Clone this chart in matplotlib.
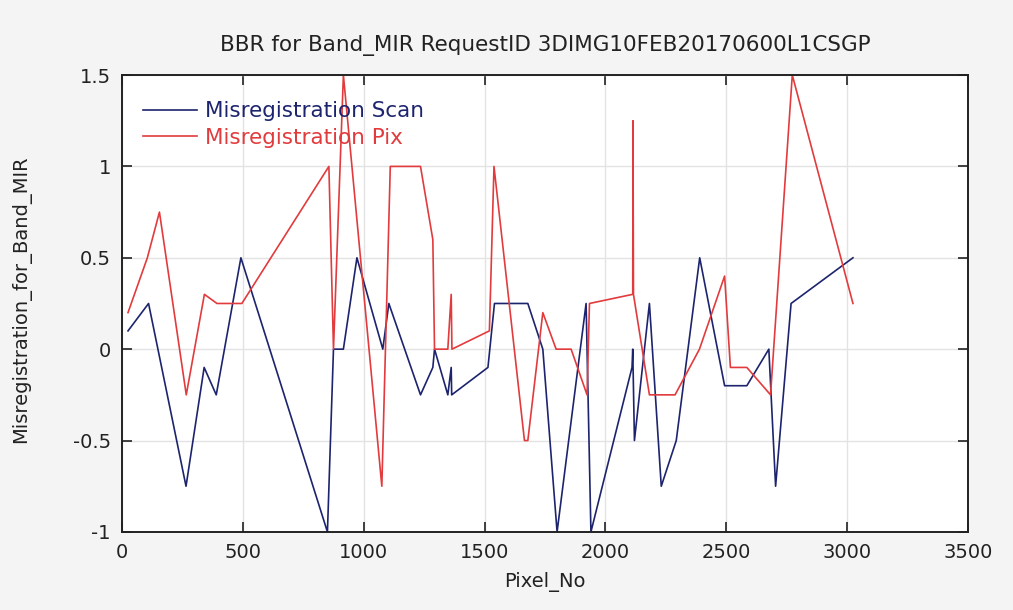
import numpy as np
import matplotlib
matplotlib.use("Agg")
import matplotlib.pyplot as plt

# Misregistration Scan (blue)
scan_px = [25, 110, 265, 340, 390, 492, 850, 875, 916, 972, 1079, 1104, 1235,
           1286, 1293, 1348, 1362, 1364, 1514, 1541, 1679, 1741, 1800, 1920,
           1940, 2110, 2113, 2120, 2182, 2231, 2293, 2390, 2493, 2585, 2676,
           2704, 2768, 3024]
scan_val = [0.1, 0.25, -0.75, -0.1, -0.25, 0.5, -1, 0, 0, 0.5, 0, 0.25, -0.25,
            -0.1, 0, -0.25, -0.1, -0.25, -0.1, 0.25, 0.25, 0, -1, 0.25,
            -1, -0.1, 0, -0.5, 0.25, -0.75, -0.5, 0.5, -0.2, -0.2, 0,
            -0.75, 0.25, 0.5]

# Misregistration Pix (red)
pix_px = [25, 105, 155, 266, 341, 393, 496, 856, 875, 916, 1075, 1110, 1235,
          1286, 1293, 1348, 1362, 1365, 1520, 1539, 1665, 1679, 1741, 1796,
          1858, 1924, 1934, 2113, 2114, 2116, 2182, 2288, 2389, 2493, 2517,
          2585, 2683, 2773, 3024]
pix_val = [0.2, 0.5, 0.75, -0.25, 0.3, 0.25, 0.25, 1.0, 0, 1.5, -0.75, 1.0, 1.0,
           0.6, 0, 0, 0.3, 0, 0.1, 1.0, -0.5, -0.5, 0.2, 0,
           0, -0.25, 0.25, 0.3, 1.25, 0.3, -0.25, -0.25, 0, 0.4, -0.1,
           -0.1, -0.25, 1.5, 0.25]

x_ticks = [0, 500, 1000, 1500, 2000, 2500, 3000, 3500]
y_ticks = [-1, -0.5, 0, 0.5, 1, 1.5]
y_tick_labels = ["-1", "-0.5", "0", "0.5", "1", "1.5"]

BLUE = "#1d246e"
RED = "#e23b3d"
INK = "#222222"

fig = plt.figure(figsize=(10.13, 6.10), dpi=100, facecolor="#f4f4f4")
ax = fig.add_axes([0.1204, 0.128, 0.8352, 0.749])
ax.set_facecolor("white")

ax.plot(scan_px, scan_val, color=BLUE, lw=1.2, label="Misregistration Scan")
ax.plot(pix_px, pix_val, color=RED, lw=1.2, label="Misregistration Pix")

ax.set_xlim(0, 3500)
ax.set_ylim(-1, 1.5)
ax.set_xticks(x_ticks)
ax.set_yticks(y_ticks)
ax.set_yticklabels(y_tick_labels)
ax.grid(True, color="#e3e3e3", lw=1.0)
ax.set_axisbelow(True)

ax.tick_params(direction="in", length=7, width=1.2, top=True, right=True,
               labelsize=14, colors=INK)
ax.tick_params(axis="x", pad=8)
ax.tick_params(axis="y", pad=8)
for s in ax.spines.values():
    s.set_color(INK)
    s.set_linewidth(1.4)

ax.set_title("BBR for Band_MIR RequestID 3DIMG10FEB20170600L1CSGP",
             fontsize=15.5, color=INK, pad=17)
ax.set_xlabel("Pixel_No", fontsize=14, color=INK, labelpad=7)
ax.set_ylabel("Misregistration_for_Band_MIR", fontsize=14, color=INK)
ax.yaxis.set_label_coords(-0.107, 0.51)

leg = ax.legend(loc="upper left", frameon=False, fontsize=15.5,
                handlelength=2.5, handletextpad=0.4, labelspacing=0.3,
                borderpad=0, borderaxespad=0,
                bbox_to_anchor=(0.0248, 0.943))
for txt, line in zip(leg.get_texts(), leg.get_lines()):
    txt.set_color(line.get_color())

fig.savefig("out.png", dpi=100, facecolor=fig.get_facecolor())
